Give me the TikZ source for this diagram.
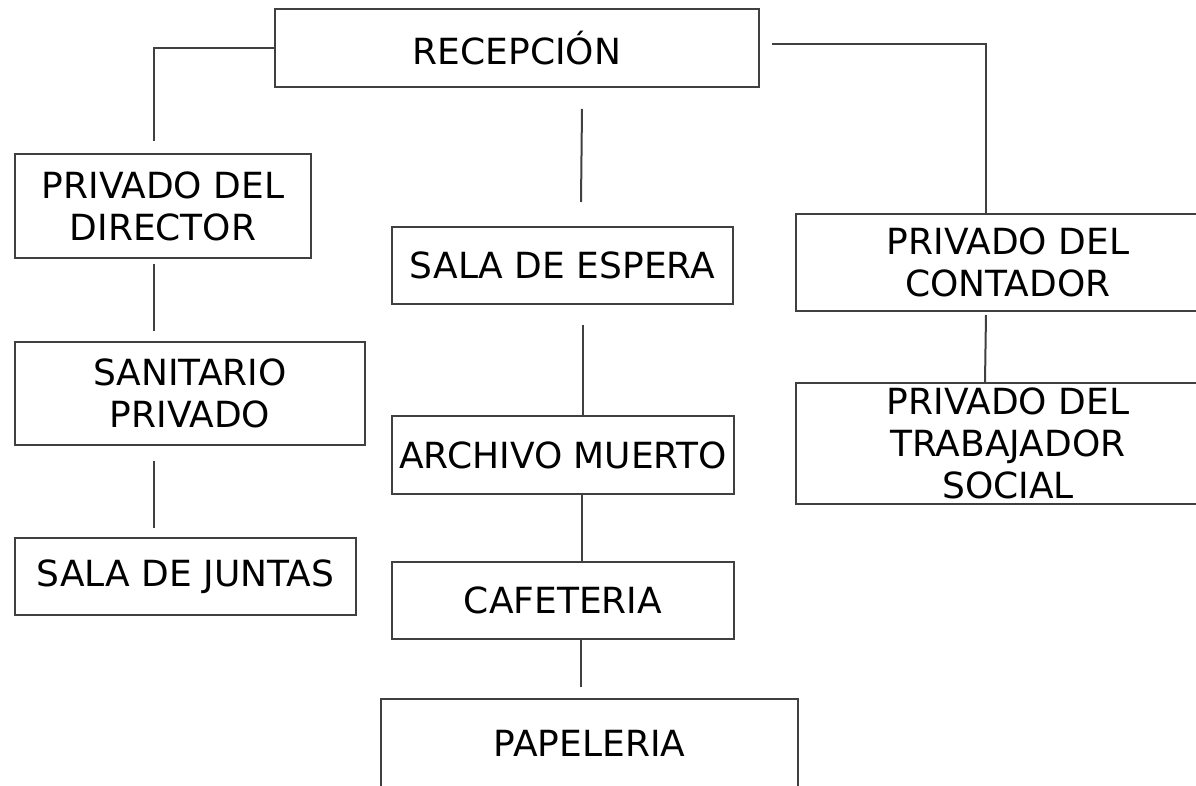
\documentclass[tikz,border=0pt]{standalone}
\usepackage{fontspec}
\setmainfont{DejaVu Sans}
\usepackage{tikz}
\usetikzlibrary{positioning}

\tikzset{
    room/.style={draw=black!75, line width=1pt, rectangle, inner sep=0pt, align=center,
        font=\fontsize{18}{21}\selectfont},
    link/.style={draw=black!75, line width=1pt}
}

\begin{document}
\begin{tikzpicture}[x=0.5pt, y=-0.5pt]
    \useasboundingbox (0,0) rectangle (1196,786);
    \clip (0,0) rectangle (1196,786);
    \fill[white] (0,0) rectangle (1196,786);

    \node[room, minimum width=242pt, minimum height=39pt] (recep) at (517,48) {RECEPCIÓN};
    \node[room, minimum width=148pt, minimum height=52pt] (director) at (163,206) {PRIVADO DEL\\DIRECTOR};
    \node[room, minimum width=175pt, minimum height=51.5pt] (sanitario) at (190,393.5) {SANITARIO\\PRIVADO};
    \node[room, minimum width=170.5pt, minimum height=38.5pt] (juntas) at (185.5,576.5) {SALA DE JUNTAS};
    \node[room, minimum width=170.5pt, minimum height=38.5pt] (espera) at (562.5,265.5) {SALA DE ESPERA};
    \node[room, minimum width=171pt, minimum height=39pt] (archivo) at (563,455) {ARCHIVO MUERTO};
    \node[room, minimum width=171pt, minimum height=38.5pt] (cafeteria) at (563,600.5) {CAFETERIA};
    \node[room, minimum width=208.5pt, minimum height=44pt] (papeleria) at (589.5,743) {PAPELERIA};
    \node[room, minimum width=212pt, minimum height=48.5pt] (contador) at (1008,262.5) {PRIVADO DEL\\CONTADOR};
    \node[room, minimum width=212pt, minimum height=60.5pt] (trabajador) at (1008,443.5) {PRIVADO DEL\\TRABAJADOR\\SOCIAL};

    \draw[link] (recep.west) -| ([xshift=-4.5pt, yshift=6pt]director.north);
    \draw[link] ([xshift=6pt, yshift=2pt]recep.east) -| ([xshift=-11pt]contador.north);
    \draw[link] ([xshift=32.5pt, yshift=-10.5pt]recep.south) -- ([xshift=9.25pt, yshift=12pt]espera.north);
    \draw[link] ([xshift=-4.5pt, yshift=-2.5pt]director.south) -- ([xshift=-18pt, yshift=5pt]sanitario.north);
    \draw[link] ([xshift=-18pt, yshift=-7.5pt]sanitario.south) -- ([xshift=-15.75pt, yshift=4.5pt]juntas.north);
    \draw[link] ([xshift=10.25pt, yshift=-10pt]espera.south) -- ([xshift=10pt]archivo.north);
    \draw[link] ([xshift=9.5pt]archivo.south) -- ([xshift=9.5pt]cafeteria.north);
    \draw[link] ([xshift=9pt]cafeteria.south) -- ([xshift=-4.25pt, yshift=5.5pt]papeleria.north);
    \draw[link] ([xshift=-11pt, yshift=-1.5pt]contador.south) -- ([xshift=-11.5pt]trabajador.north);
\end{tikzpicture}
\end{document}
